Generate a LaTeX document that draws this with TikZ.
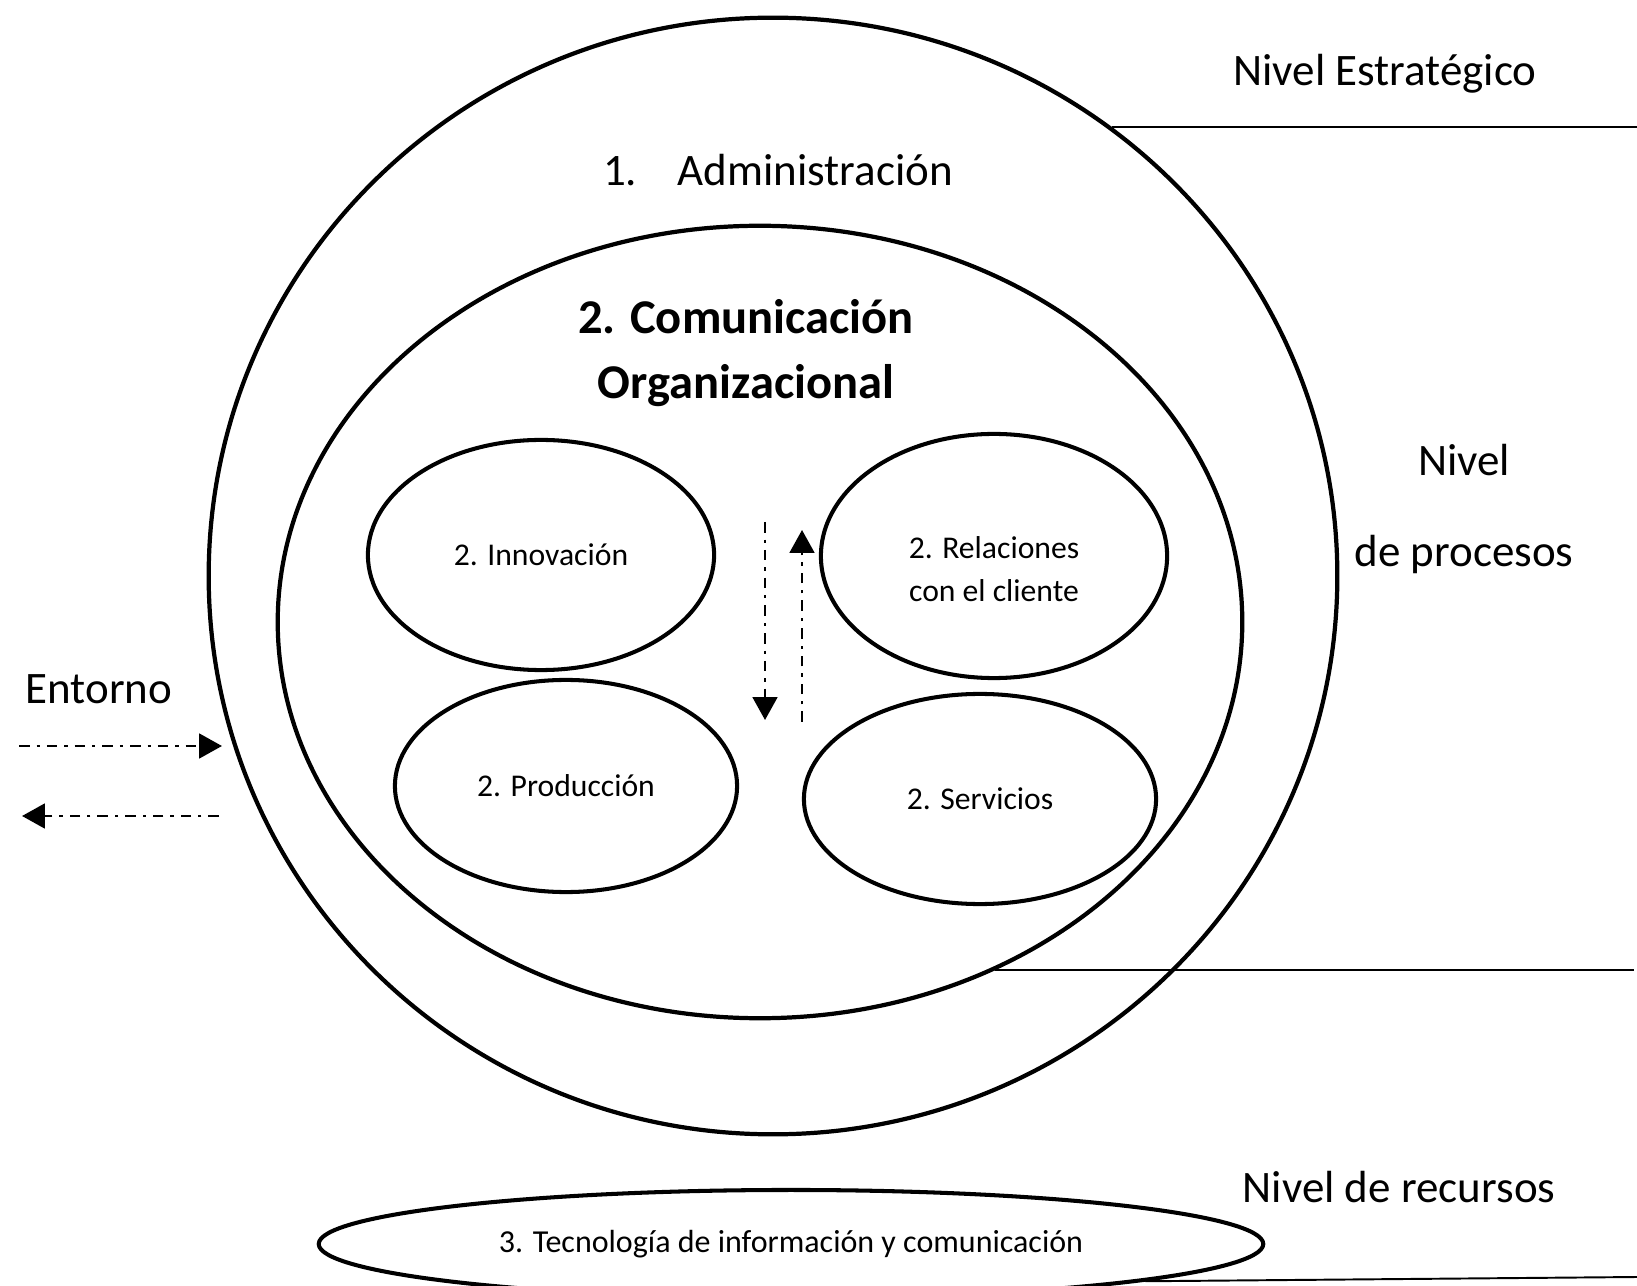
\documentclass[tikz,border=0pt]{standalone}
\usepackage{fontspec}
\setmainfont{Carlito}
\usetikzlibrary{shapes.geometric, arrows.meta, positioning}

\begin{document}
\begin{tikzpicture}[x=0.01cm, y=-0.01cm,
		zone/.style={ellipse, draw, line width=1.2pt, inner sep=0pt},
		unit/.style={ellipse, draw, line width=1.15pt, inner sep=0pt, align=center, font=\fontsize{9}{12.2}\selectfont},
		label/.style={font=\fontsize{12.8}{15}\selectfont},
		flow/.style={-{Triangle[length=6.5pt, width=7pt]}, line width=0.8pt, dash pattern=on 3pt off 2pt on 0.9pt off 2pt},
		level/.style={line width=0.55pt}]
			\useasboundingbox (0,0) rectangle (1637,1286);
			
			\node[zone, minimum width=11.28cm, minimum height=11.16cm] (adm) at (773,576) {};
			\node[zone, minimum width=9.64cm, minimum height=7.92cm] (com) at (760,622) {};
			
			\node[label] (t1) at (778,170) {1.\hspace*{0.9em}Administración};
			\node[label, align=center, font=\fontsize{13.8}{18.4}\selectfont\bfseries] (t2) at (746,353) {2. Comunicación\\Organizacional};
			
			\node[unit, minimum width=3.46cm, minimum height=2.30cm] (inn) at (541,555) {2. Innovación};
			\node[unit, minimum width=3.46cm, minimum height=2.44cm] (rel) at (994,556) {};
			\node[align=center, font=\fontsize{9}{12.2}\selectfont] (relt) at ([yshift=-0.13cm]rel.center) {2. Relaciones\\con el cliente};
			\node[unit, minimum width=3.42cm, minimum height=2.12cm] (pro) at (566,786) {2. Producción};
			\node[unit, minimum width=3.52cm, minimum height=2.10cm] (ser) at (980,799) {2. Servicios};
			\node[unit, minimum width=9.44cm, minimum height=1.08cm, font=\fontsize{9.1}{11}\selectfont] (tic) at (791,1244) {3. Tecnología de información y comunicación};
			
			\node[label] (ne) at (1385,74) {Nivel Estratégico};
			\node[label] (np1) at (1464,460) {Nivel};
			\node[label] (np2) at (1464,555) {de procesos};
			\node[label] (nr) at (1399,1187) {Nivel de recursos};
			\node[label] (ent) at (99,689) {Entorno};
			
			\coordinate (e1) at (1637,125);
			\coordinate (e2) at (1634,971);
			\coordinate (e3) at (1637,1277);
			\draw[level] (adm.53.6) -- (adm.53.6 -| e1);
			\draw[level] (com.-56.8) -- (com.-56.8 -| e2);
			\draw[level] (tic.-6) -- (e3);
			
			\coordinate (d1) at (765,522);
			\coordinate (d2) at (765,720);
			\coordinate (u1) at (802,722);
			\coordinate (u2) at (802,530);
			\draw[flow] (d1) -- (d2);
			\draw[flow] (u1) -- (u2);
			
			\coordinate (r1) at (19,746);
			\coordinate (r2) at (222,746);
			\coordinate (l1) at (219,816);
			\coordinate (l2) at (22,816);
			\draw[flow] (r1) -- (r2);
			\draw[flow] (l1) -- (l2);
		\end{tikzpicture}
\end{document}
